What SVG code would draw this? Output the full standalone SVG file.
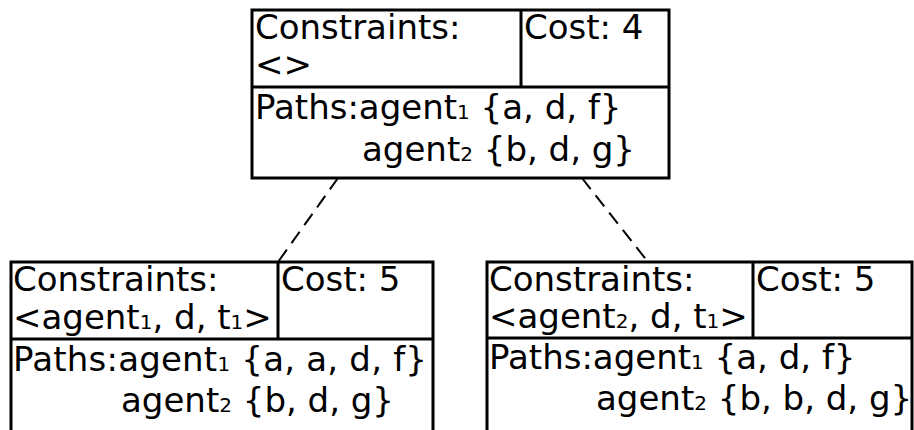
<svg xmlns="http://www.w3.org/2000/svg" width="914" height="430" viewBox="0 0 914 430">
  <style>
    .box { fill: #fff; stroke: #000; stroke-width: 3; }
    .div { stroke: #000; stroke-width: 3; fill: none; }
    .t { font-family: "DejaVu Sans", Verdana, sans-serif; font-size: 34px; fill: #000; }
    .sub { font-size: 20px; }
    .edge { stroke: #000; stroke-width: 2; stroke-dasharray: 14 8; fill: none; }
  </style>
  <rect width="914" height="430" fill="#fff"/>

  <g id="connectors">
    <line class="edge" x1="338" y1="178" x2="278" y2="262"/>
    <line class="edge" x1="582" y1="178" x2="648" y2="262"/>
  </g>

  <!-- root of the constraint tree -->
  <g id="node-root">
    <rect class="box" x="252" y="10" width="417" height="168"/>
    <line class="div" x1="521" y1="10" x2="521" y2="87"/>
    <line class="div" x1="252" y1="87" x2="669" y2="87"/>
    <text class="t" x="255" y="39">Constraints:</text>
    <text class="t" x="255" y="76">&lt;&gt;</text>
    <text class="t" x="524" y="39">Cost: 4</text>
    <text class="t" x="255" y="119">Paths:agent<tspan class="sub">1</tspan> {a, d, f}</text>
    <text class="t" x="362" y="161">agent<tspan class="sub">2</tspan> {b, d, g}</text>
  </g>

  <!-- left child: agent1 constrained at d, t1 -->
  <g id="node-left">
    <rect class="box" x="11" y="262" width="422" height="200"/>
    <line class="div" x1="278" y1="262" x2="278" y2="339"/>
    <line class="div" x1="11" y1="339" x2="433" y2="339"/>
    <text class="t" x="13" y="291">Constraints:</text>
    <text class="t" x="13" y="329">&lt;agent<tspan class="sub">1</tspan>, d, t<tspan class="sub">1</tspan>&gt;</text>
    <text class="t" x="281" y="291">Cost: 5</text>
    <text class="t" x="13" y="371" textLength="414" lengthAdjust="spacing">Paths:agent<tspan class="sub">1</tspan> {a, a, d, f}</text>
    <text class="t" x="121" y="412">agent<tspan class="sub">2</tspan> {b, d, g}</text>
  </g>

  <!-- right child: agent2 constrained at d, t1 -->
  <g id="node-right">
    <rect class="box" x="487" y="262" width="425" height="200"/>
    <line class="div" x1="753" y1="262" x2="753" y2="338"/>
    <line class="div" x1="487" y1="338" x2="912" y2="338"/>
    <text class="t" x="489" y="291">Constraints:</text>
    <text class="t" x="489" y="328">&lt;agent<tspan class="sub">2</tspan>, d, t<tspan class="sub">1</tspan>&gt;</text>
    <text class="t" x="756" y="291">Cost: 5</text>
    <text class="t" x="489" y="369">Paths:agent<tspan class="sub">1</tspan> {a, d, f}</text>
    <text class="t" x="596" y="410">agent<tspan class="sub">2</tspan> {b, b, d, g}</text>
  </g>
</svg>
